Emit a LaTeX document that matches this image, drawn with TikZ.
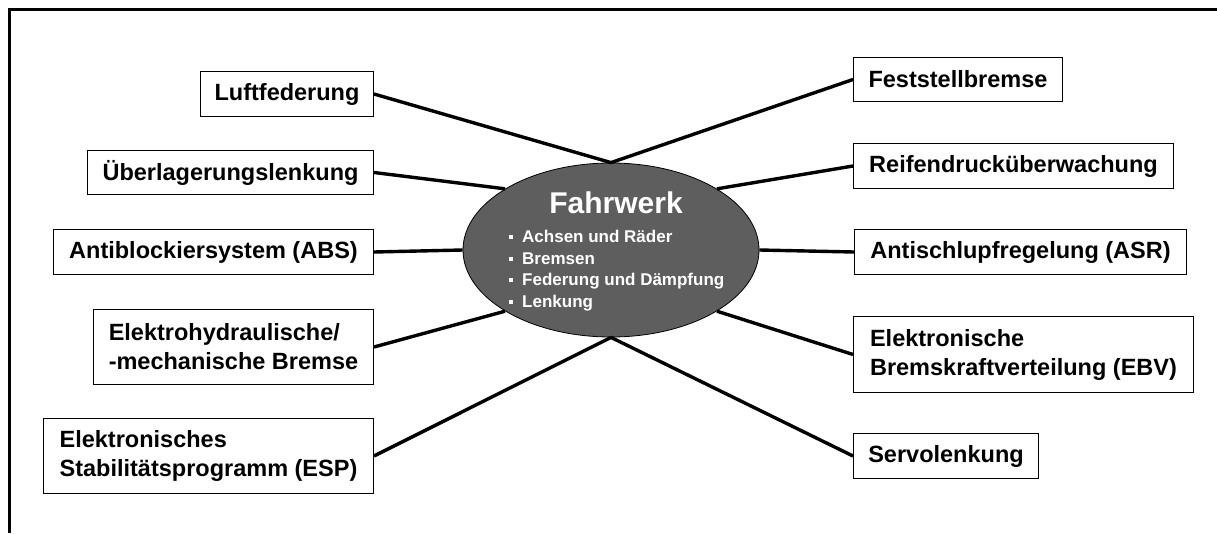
\documentclass[tikz,border=0pt]{standalone}
\usepackage{fontspec}
\setmainfont{Liberation Sans}
\usetikzlibrary{shapes.geometric}
\definecolor{hubgray}{HTML}{5E5E5E}
\tikzset{
  box/.style={draw=black, line width=1pt, fill=white, anchor=north west,
    inner xsep=2pt, inner ysep=0pt, align=left,
    font=\fontsize{23.5}{29}\selectfont\bfseries},
  link/.style={draw=black, line width=3.4pt},
  hub/.style={ellipse, draw=black, line width=0.8pt, fill=hubgray,
    minimum width=296pt, minimum height=174pt, inner sep=0pt},
  frameline/.style={draw=black, line width=3pt}
}
\newcommand{\bul}{\makebox[13pt][l]{\rule[3.5pt]{4pt}{4pt}}}
\begin{document}
\begin{tikzpicture}[x=1pt,y=-1pt]
\useasboundingbox (0,0) rectangle (1217,533);
% frame on top and left
\coordinate (f0) at (9,533);
\coordinate (f1) at (9,9);
\coordinate (f2) at (1217,9);
\draw[frameline] (f0) -- (f1) -- (f2);

% central ellipse
\node[hub] (fw) at (611,250) {};
\node[text=white, font=\fontsize{30}{32}\selectfont\bfseries, anchor=base] (title) at (616,213) {Fahrwerk};
\node[text=white, anchor=north west, align=left, inner sep=0pt,
  font=\fontsize{17}{21.7}\selectfont\bfseries] (items) at (509,230)
  {\bul Achsen und Räder\\ \bul Bremsen\\ \bul Federung und Dämpfung\\ \bul Lenkung};

% left boxes
\node[box, minimum width=173pt, minimum height=45pt] (luft) at (200,71) {Luftfederung};
\node[box, minimum width=286pt, minimum height=44pt] (ueber) at (87,150) {Überlagerungslenkung};
\node[box, minimum width=320pt, minimum height=45pt] (abs) at (53,229) {Antiblockiersystem (ABS)};
\node[box, minimum width=280pt, minimum height=75pt] (ehb) at (93,309) {Elektrohydraulische/\\-mechanische Bremse};
\node[box, minimum width=330pt, minimum height=75pt] (esp) at (43,418) {Elektronisches\\Stabilitätsprogramm (ESP)};

% right boxes
\node[box, minimum width=209pt, minimum height=44pt] (fest) at (853,57) {Feststellbremse};
\node[box, minimum width=320pt, minimum height=45pt] (reif) at (853,143) {Reifendrucküberwachung};
\node[box, minimum width=332pt, minimum height=45pt] (asr) at (854,229) {Antischlupfregelung (ASR)};
\node[box, minimum width=340pt, minimum height=76pt] (ebv) at (853,316) {Elektronische\\Bremskraftverteilung (EBV)};
\node[box, minimum width=185pt, minimum height=45pt] (servo) at (853,433) {Servolenkung};

% connectors
\draw[link] (luft.east) -- (fw.north);
\draw[link] (fest.west) -- (fw.north);
\draw[link] (ueber.east) -- (fw.150);
\draw[link] (reif.west) -- (fw.30);
\draw[link] (abs.east) -- (fw.west);
\draw[link] (asr.west) -- (fw.east);
\draw[link] (ehb.east) -- (fw.210);
\draw[link] (ebv.west) -- (fw.330);
\draw[link] (esp.east) -- (fw.south);
\draw[link] (servo.west) -- (fw.south);
\end{tikzpicture}
\end{document}
